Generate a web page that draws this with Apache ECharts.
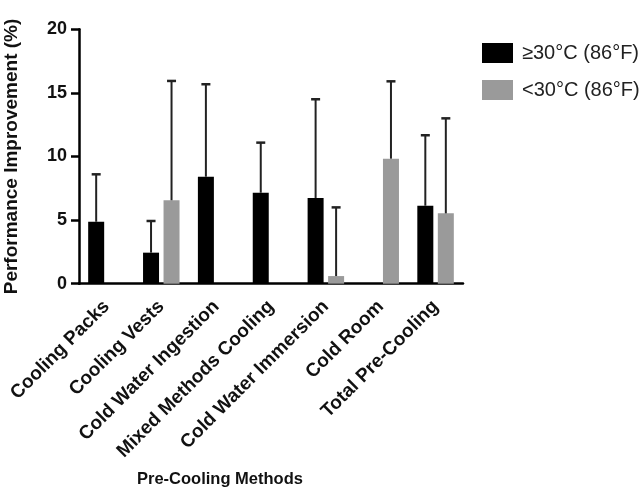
<!DOCTYPE html>
<html>
<head>
<meta charset="utf-8">
<script src="https://cdn.jsdelivr.net/npm/echarts@6/dist/echarts.min.js"></script>
<style>
  html, body { margin: 0; padding: 0; background: #fff; }
  #chart { width: 642px; height: 491px; }
</style>
</head>
<body>
<div id="chart"></div>
<script>
// Pre-cooling methods and mean performance improvement (%) with upper SD
const categories = ['Cooling Packs', 'Cooling Vests', 'Cold Water Ingestion', 'Mixed Methods Cooling',
                    'Cold Water Immersion', 'Cold Room', 'Total Pre-Cooling'];
const hotMeans  = [4.87, 2.44, 8.41, 7.15, 6.74, null, 6.13];   // ≥30°C
const hotUpper  = [8.6, 4.93, 15.68, 11.09, 14.5, null, 11.67];
const warmMeans = [null, 6.56, null, null, 0.6, 9.83, 5.53];     // <30°C
const warmUpper = [null, 15.94, null, null, 6.0, 15.91, 13.0];
const seriesNames = ['≥30°C (86°F)', '<30°C (86°F)'];
const yTicks = [0, 5, 10, 15, 20];

const FONT = 'Arial, "Liberation Sans", Helvetica, sans-serif';
const BAR_W = 16;
const BAR_GAP = 4.5;

const toBar = arr => arr.map(v => (v == null ? '-' : v));

// error-bar data: [categoryIndex, mean, upper]
function errData(means, uppers) {
  const out = [];
  means.forEach((m, i) => { if (m != null) out.push([i, m, uppers[i]]); });
  return out;
}

function errRender(side) {
  return function (params, api) {
    const i = api.value(0);
    const base = api.coord([i, api.value(1)]);
    const top = api.coord([i, api.value(2)]);
    const x = base[0] + side * (BAR_W / 2 + BAR_GAP / 2);
    const cap = 4.5;
    return {
      type: 'group',
      children: [
        { type: 'line', shape: { x1: x, y1: base[1], x2: x, y2: top[1] },
          style: { stroke: '#222', lineWidth: 2 } },
        { type: 'line', shape: { x1: x - cap, y1: top[1], x2: x + cap, y2: top[1] },
          style: { stroke: '#222', lineWidth: 2.5 } }
      ]
    };
  };
}

const chart = echarts.init(document.getElementById('chart'), null, { renderer: 'canvas' });
chart.setOption({
  animation: false,
  backgroundColor: '#fff',
  textStyle: { fontFamily: FONT },
  grid: { left: 79, right: 179, top: 29.3, bottom: 207.3, containLabel: false, outerBoundsMode: 'none' },
  legend: {
    orient: 'vertical',
    left: 477, top: 38,
    itemWidth: 31, itemHeight: 20, itemGap: 17,
    icon: 'rect',
    textStyle: { fontFamily: FONT, fontSize: 20, color: '#222', padding: [0, 0, 0, 4] },
    data: seriesNames
  },
  xAxis: {
    type: 'category',
    data: categories,
    axisLine: { lineStyle: { color: '#000', width: 2.5 } },
    axisTick: { alignWithLabel: true, length: 8, lineStyle: { color: '#000', width: 2.5 } },
    axisLabel: { rotate: 45, margin: 20, fontFamily: FONT, fontSize: 19, fontWeight: 'bold', color: '#111', interval: 0 }
  },
  yAxis: {
    type: 'value',
    min: 0, max: 20, interval: 5,
    name: 'Performance Improvement (%)',
    nameLocation: 'middle',
    nameGap: 58,
    nameTextStyle: { fontFamily: FONT, fontSize: 19, fontWeight: 'bold', color: '#111' },
    axisLine: { show: true, lineStyle: { color: '#000', width: 2.5 } },
    axisTick: { show: true, length: 8, lineStyle: { color: '#000', width: 2.5 } },
    axisLabel: { margin: 12, fontFamily: FONT, fontSize: 18, fontWeight: 'bold', color: '#111',
                 formatter: v => (yTicks.includes(v) ? String(v) : '') },
    splitLine: { show: false }
  },
  graphic: [{
    type: 'text', left: 137, top: 471,
    style: { text: 'Pre-Cooling Methods', fontFamily: FONT, fontSize: 16.5, fontWeight: 'bold', fill: '#111' }
  }],
  series: [
    {
      name: seriesNames[0], type: 'bar', data: toBar(hotMeans),
      barWidth: BAR_W, barGap: (BAR_GAP / BAR_W * 100) + '%',
      itemStyle: { color: '#000' }
    },
    {
      name: seriesNames[1], type: 'bar', data: toBar(warmMeans),
      barWidth: BAR_W,
      itemStyle: { color: '#9a9a9a' }
    },
    {
      type: 'custom', renderItem: errRender(-1), data: errData(hotMeans, hotUpper),
      encode: { x: 0, y: [1, 2] }, z: 3, silent: true
    },
    {
      type: 'custom', renderItem: errRender(1), data: errData(warmMeans, warmUpper),
      encode: { x: 0, y: [1, 2] }, z: 3, silent: true
    }
  ]
});
</script>
</body>
</html>
